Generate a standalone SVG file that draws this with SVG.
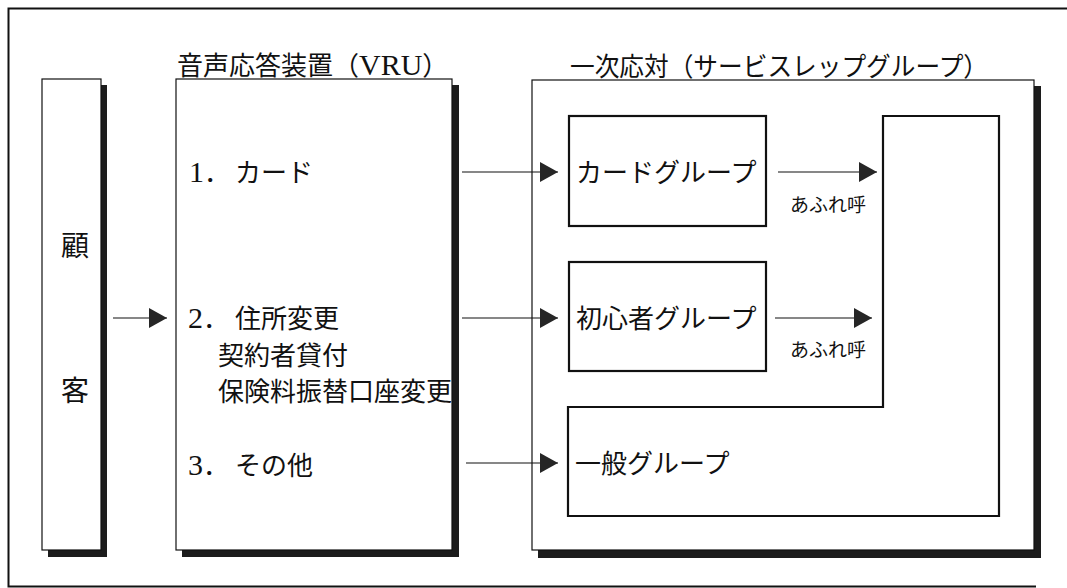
<svg xmlns="http://www.w3.org/2000/svg" width="1067" height="588" viewBox="0 0 1067 588">
<style>
.t{font-family:"Liberation Serif","Noto Sans CJK JP",serif;fill:#111;}
.d{font-size:30px;}
.box{fill:#fff;stroke:#111;stroke-width:1.2;}
.grp{fill:#fff;stroke:#111;stroke-width:2.2;}
.sh{fill:#1c1c1c;}
.ln{stroke:#111;stroke-width:1.2;fill:none;}
</style>
<defs>
<marker id="ah" markerUnits="userSpaceOnUse" markerWidth="18" markerHeight="20" refX="18" refY="10" orient="auto">
<path d="M0,0 L18,10 L0,20 Z" fill="#262626"/>
</marker>
</defs>
<rect width="1067" height="588" fill="#fff"/>
<g id="frame">
<path d="M1067,8.5 H8.5 V586.5 H1036" fill="none" stroke="#111" stroke-width="2"/>
</g>
<g id="customer">
<rect class="sh" x="48" y="85" width="59" height="472"/>
<rect class="box" x="42" y="79" width="59" height="471"/>
<text class="t" x="61" y="256" font-size="28">顧</text>
<text class="t" x="61" y="401" font-size="28">客</text>
</g>
<g id="vru">
<text class="t" x="177" y="75" font-size="26">音声応答装置（<tspan class="d">VRU</tspan>）</text>
<rect class="sh" x="182" y="85" width="277" height="472"/>
<rect class="box" x="176" y="79" width="276" height="471"/>
<text class="t" x="189" y="181.5" font-size="26"><tspan class="d">1</tspan>．<tspan x="235">カード</tspan></text>
<text class="t" x="188" y="328" font-size="26"><tspan class="d">2</tspan>．<tspan x="235">住所変更</tspan></text>
<text class="t" x="218" y="365" font-size="26">契約者貸付</text>
<text class="t" x="218" y="401" font-size="26">保険料振替口座変更</text>
<text class="t" x="188" y="475" font-size="26"><tspan class="d">3</tspan>．<tspan x="235">その他</tspan></text>
</g>
<g id="service">
<text class="t" x="570" y="76" font-size="26" textLength="418" lengthAdjust="spacingAndGlyphs">一次応対（サービスレップグループ）</text>
<rect class="sh" x="538" y="86" width="503" height="472"/>
<rect class="box" x="532" y="80" width="502" height="470"/>
</g>
<g id="card-group">
<rect class="grp" x="569" y="116" width="197" height="110"/>
<text class="t" x="576" y="182" font-size="26">カードグループ</text>
</g>
<g id="beginner-group">
<rect class="grp" x="569" y="262" width="197" height="109"/>
<text class="t" x="576" y="328" font-size="26">初心者グループ</text>
</g>
<g id="general-group">
<path class="grp" d="M883,116 H999 V516 H568 V407 H883 Z"/>
<text class="t" x="575" y="473" font-size="26">一般グループ</text>
</g>
<g id="connectors">
<line class="ln" x1="113" y1="318" x2="167" y2="318" marker-end="url(#ah)"/>
<line class="ln" x1="462" y1="172" x2="558" y2="172" marker-end="url(#ah)"/>
<line class="ln" x1="462" y1="318" x2="558" y2="318" marker-end="url(#ah)"/>
<line class="ln" x1="466" y1="463" x2="558" y2="463" marker-end="url(#ah)"/>
<line class="ln" x1="778" y1="172" x2="877" y2="172" marker-end="url(#ah)"/>
<line class="ln" x1="775" y1="318" x2="872" y2="318" marker-end="url(#ah)"/>
<text class="t" x="790" y="212" font-size="19">あふれ呼</text>
<text class="t" x="790" y="357" font-size="19">あふれ呼</text>
</g>
</svg>
